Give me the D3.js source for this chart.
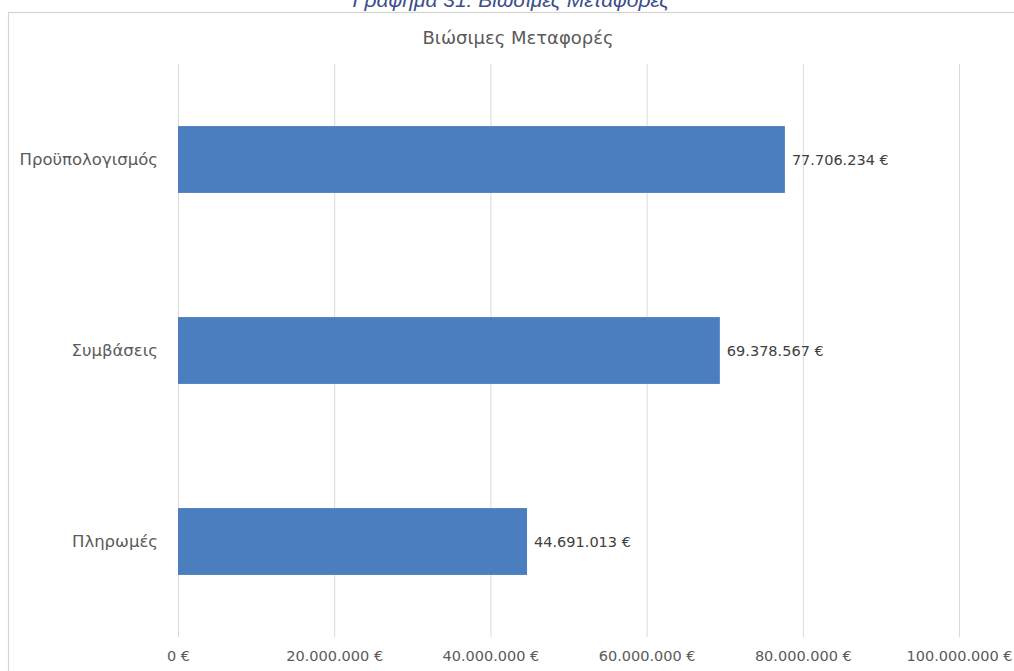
<!DOCTYPE html>
<html>
<head>
<meta charset="utf-8">
<script src="https://cdn.jsdelivr.net/npm/d3@7"></script>
<style>
  body { margin: 0; background: #fff; }
  svg { display: block; font-family: 'DejaVu Sans', sans-serif; }
</style>
</head>
<body>
<div id="viz"></div>
<script>
// data
const categories = ['Προϋπολογισμός', 'Συμβάσεις', 'Πληρωμές'];
const values = [77706234, 69378567, 44691013];
const xTicks = [0, 20000000, 40000000, 60000000, 80000000, 100000000];
const chartTitle = 'Βιώσιμες Μεταφορές';
const caption = 'Γράφημα 31: Βιώσιμες Μεταφορές';

const config = {
  width: 1014,
  height: 671,
  left: 178,
  right: 959,
  top: 64,
  bottom: 637
};

const svg = d3.select('#viz').append('svg')
  .attr('width', config.width)
  .attr('height', config.height);

// figure caption, cut off by the page top as in the original
svg.append('text')
  .attr('x', 511)
  .attr('y', 7)
  .attr('text-anchor', 'middle')
  .attr('font-size', 21)
  .attr('font-style', 'italic')
  .attr('font-family', "'Liberation Sans', sans-serif")
  .attr('fill', '#3b4e87')
  .text(caption);

// chart frame
svg.append('rect')
  .attr('x', 8.5)
  .attr('y', 12.5)
  .attr('width', 1030)
  .attr('height', 700)
  .attr('fill', '#fff')
  .attr('stroke', '#d4d4d4')
  .attr('stroke-width', 1.2);

const fmt = v => d3.format(',')(v).replace(/,/g, '.') + ' €';

const xScale = d3.scaleLinear()
  .domain([0, 100000000])
  .range([config.left, config.right]);

const yScale = d3.scaleBand()
  .domain(categories)
  .range([config.top, config.bottom])
  .paddingInner(0.65)
  .paddingOuter(0.325);

// gridlines + tick labels
const xAxis = svg.append('g')
  .attr('class', 'x axis')
  .attr('transform', `translate(0, ${config.bottom})`)
  .call(d3.axisBottom(xScale)
    .tickValues(xTicks)
    .tickSize(-(config.bottom - config.top))
    .tickPadding(14)
    .tickFormat(fmt));
xAxis.select('.domain').remove();
xAxis.selectAll('.tick line').attr('stroke', '#d9d9d9').attr('stroke-width', 1);
xAxis.selectAll('.tick text')
  .attr('fill', '#5a5a5a')
  .attr('font-size', 14.5)
  .attr('font-family', "'DejaVu Sans', sans-serif");

// category labels
svg.append('g').selectAll('text')
  .data(categories)
  .enter()
  .append('text')
  .attr('x', config.left - 20)
  .attr('y', d => yScale(d) + yScale.bandwidth() / 2)
  .attr('dy', '0.35em')
  .attr('text-anchor', 'end')
  .attr('font-size', 16.5)
  .attr('fill', '#5a5a5a')
  .text(d => d);

// bars
svg.append('g').selectAll('rect')
  .data(values)
  .enter()
  .append('rect')
  .attr('x', xScale(0))
  .attr('y', (d, i) => yScale(categories[i]))
  .attr('width', d => xScale(d) - xScale(0))
  .attr('height', yScale.bandwidth())
  .attr('fill', '#4a7ebf');

// value labels
svg.append('g').selectAll('text')
  .data(values)
  .enter()
  .append('text')
  .attr('x', d => xScale(d) + 7)
  .attr('y', (d, i) => yScale(categories[i]) + yScale.bandwidth() / 2)
  .attr('dy', '0.35em')
  .attr('font-size', 14.5)
  .attr('fill', '#404040')
  .text(fmt);

// chart title
svg.append('text')
  .attr('x', 518)
  .attr('y', 38)
  .attr('dy', '0.35em')
  .attr('text-anchor', 'middle')
  .attr('font-size', 18)
  .attr('fill', '#5a5a5a')
  .text(chartTitle);
</script>
</body>
</html>
